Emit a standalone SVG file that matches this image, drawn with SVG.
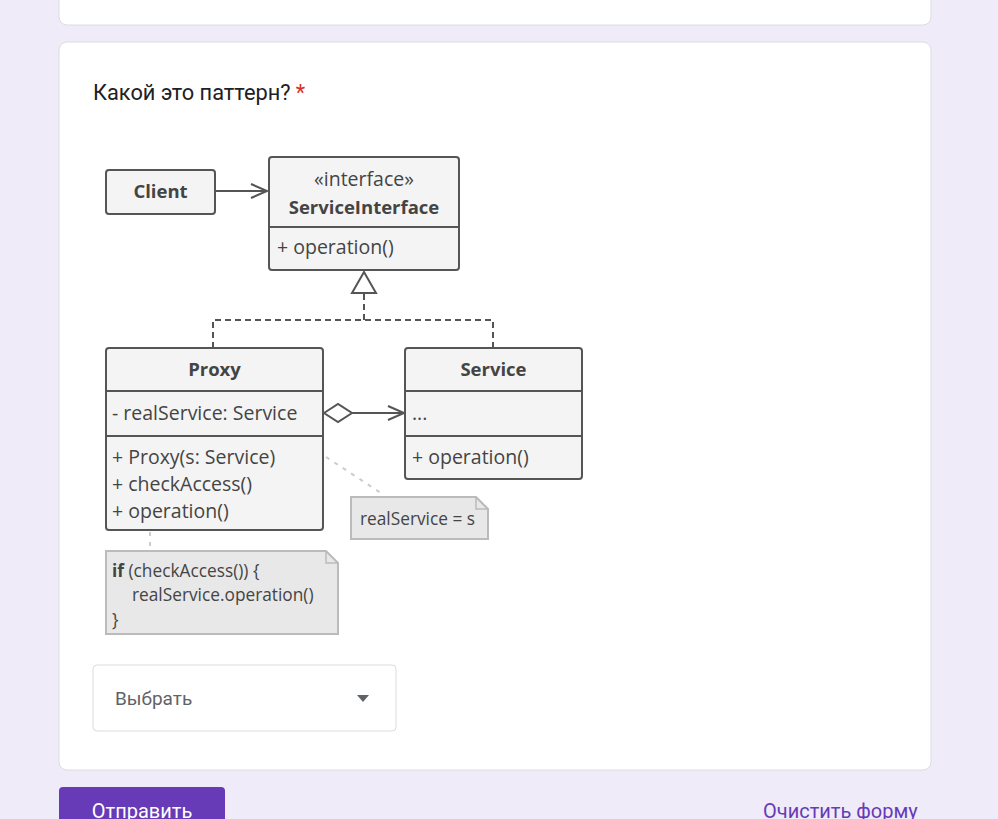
<svg xmlns="http://www.w3.org/2000/svg" width="998" height="819" viewBox="0 0 998 819">
<style>
.card{fill:#fff;stroke:#dadce0;stroke-width:1}
.box{fill:#f4f4f4;stroke:#555;stroke-width:2}
.div{stroke:#555;stroke-width:2}
.t{font-family:"Open Sans","Noto Sans",sans-serif;font-size:19.5px;fill:#444}
.b{font-weight:bold;font-size:18.5px}
.note{fill:#e8e8e8;stroke:#bbb;stroke-width:2}
.nt{font-family:"Open Sans","Noto Sans",sans-serif;font-size:17.3px;fill:#444}
.con{stroke:#555;stroke-width:2;fill:none}
.dash{stroke:#555;stroke-width:2;fill:none;stroke-dasharray:6,4}
.dot{stroke:#ccc;stroke-width:2;fill:none;stroke-dasharray:4,6}
.ui{font-family:Roboto,"Liberation Sans",sans-serif}
</style>
<defs>
<marker id="open" markerWidth="20" markerHeight="20" refX="17" refY="8" orient="auto" markerUnits="userSpaceOnUse">
<path d="M1,1 L17,8 L1,15" fill="none" stroke="#555" stroke-width="2"/>
</marker>
</defs>
<rect width="998" height="819" fill="#f0ebf8"/>
<rect class="card" x="59" y="-20" width="872" height="45" rx="8"/>
<rect class="card" x="59" y="42" width="872" height="728" rx="8"/>
<text class="ui" x="93" y="100" font-size="21.8" fill="#202124">Какой это паттерн?<tspan fill="#d93025" dx="5">*</tspan></text>

<g id="connectors">
<line class="con" x1="215" y1="191" x2="267" y2="191" marker-end="url(#open)"/>
<path class="dash" d="M213,348 V320 H493 V348 M364,320 V293"/>
<path d="M352,293 L364,272 L376,293 Z" fill="#fff" stroke="#555" stroke-width="2"/>
<path d="M324,413 L338,404 L352,413 L338,422 Z" fill="#fff" stroke="#555" stroke-width="2"/>
<line class="con" x1="352" y1="413" x2="404" y2="413" marker-end="url(#open)"/>
<line class="dot" x1="326" y1="457" x2="384" y2="495"/>
<line class="dot" x1="150" y1="532" x2="150" y2="551"/>
</g>

<g id="client">
<rect class="box" x="106" y="170" width="109" height="44" rx="3"/>
<text class="t b" x="160.5" y="198" text-anchor="middle" font-size="19.5">Client</text>
</g>

<g id="serviceinterface">
<rect class="box" x="269" y="157" width="190" height="113" rx="3"/>
<line class="div" x1="269" y1="227" x2="459" y2="227"/>
<text class="t" x="364" y="186" text-anchor="middle">«interface»</text>
<text class="t b" x="364" y="214" text-anchor="middle">ServiceInterface</text>
<text class="t" x="277" y="254">+ operation()</text>
</g>

<g id="proxy">
<rect class="box" x="106" y="348" width="217" height="182" rx="3"/>
<line class="div" x1="106" y1="391" x2="323" y2="391"/>
<line class="div" x1="106" y1="436" x2="323" y2="436"/>
<text class="t b" x="214.5" y="376" text-anchor="middle">Proxy</text>
<text class="t" x="112" y="420">- realService: Service</text>
<text class="t" x="112" y="464">+ Proxy(s: Service)</text>
<text class="t" x="112" y="491">+ checkAccess()</text>
<text class="t" x="112" y="518">+ operation()</text>
</g>

<g id="service">
<rect class="box" x="405" y="348" width="177" height="131" rx="3"/>
<line class="div" x1="405" y1="391" x2="582" y2="391"/>
<line class="div" x1="405" y1="436" x2="582" y2="436"/>
<text class="t b" x="493.5" y="376" text-anchor="middle">Service</text>
<text class="t" x="412" y="420">...</text>
<text class="t" x="412" y="464">+ operation()</text>
</g>

<g id="note1">
<path class="note" d="M351,497 H476 L488,509 V539 H351 Z"/>
<path d="M476,497 V509 H488" fill="none" stroke="#bbb" stroke-width="1.5"/>
<text class="nt" x="360" y="525">realService = s</text>
</g>

<g id="note2">
<path class="note" d="M106,551 H326 L338,563 V634 H106 Z"/>
<path d="M326,551 V563 H338" fill="none" stroke="#bbb" stroke-width="1.5"/>
<text class="nt" x="112" y="577"><tspan font-weight="bold">if</tspan> (checkAccess()) {</text>
<text class="nt" x="132" y="601">realService.operation()</text>
<text class="nt" x="112" y="626">}</text>
</g>

<g id="dropdown">
<rect x="93" y="665" width="303" height="66" rx="4" fill="#fff" stroke="#dadce0"/>
<text class="ui" x="115" y="705" font-size="19" fill="#5f6368">Выбрать</text>
<path d="M357,695 L369,695 L363,702 Z" fill="#5f6368"/>
</g>

<g id="buttons">
<rect x="59" y="787" width="166" height="50" rx="4" fill="#673ab7"/>
<text class="ui" x="142" y="818" font-size="20" fill="#fff" text-anchor="middle">Отправить</text>
<text class="ui" x="763" y="818" font-size="20" fill="#673ab7">Очистить форму</text>
</g>
</svg>
